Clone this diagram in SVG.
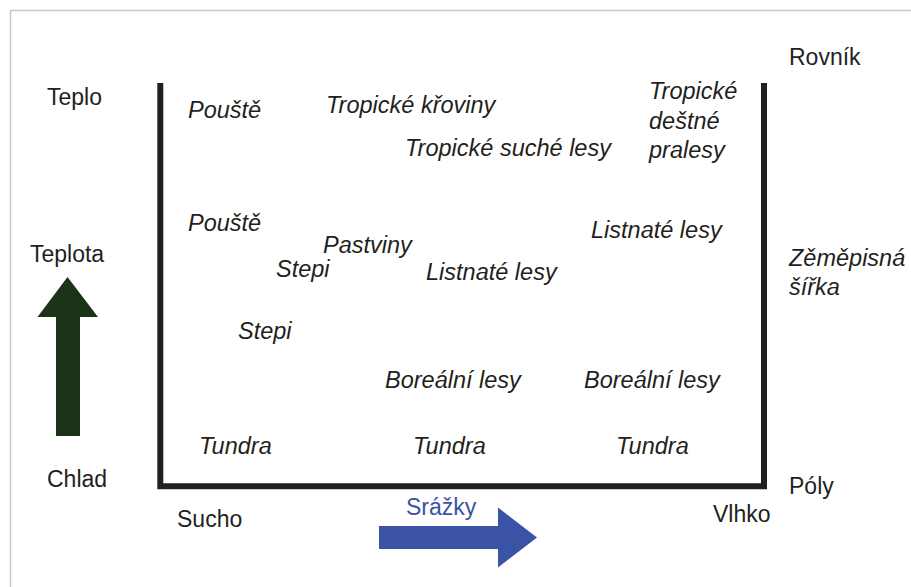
<svg xmlns="http://www.w3.org/2000/svg" width="911" height="587" viewBox="0 0 911 587">
<style>
text{font-family:"Liberation Sans",Arial,Helvetica,sans-serif;font-size:23px;fill:#231f20}
.i{font-style:italic;font-size:23.5px}
.b{fill:#3a53a4}
</style>
<rect width="911" height="587" fill="#fff"/>
<path d="M10.5,587 V10.5 H911" fill="none" stroke="#c8c8c8" stroke-width="1.5"/>
<g id="frame">
<path d="M160.3,83 V486.3 H764 V83" fill="none" stroke="#231f20" stroke-width="6"/>
</g>
<g id="axis-temperature">
<polygon points="67.5,277 98,317 80,317 80,436 56,436 56,317 37.5,317" fill="#1c3319"/>
<text x="47" y="105">Teplo</text>
<text x="30" y="262">Teplota</text>
<text x="47" y="487">Chlad</text>
</g>
<g id="axis-precip">
<polygon points="379,526 498,526 498,507.5 537,537.5 498,567.5 498,549 379,549" fill="#3a53a4"/>
<text class="b" x="406" y="515">Srážky</text>
<text x="177" y="527">Sucho</text>
<text x="713" y="522">Vlhko</text>
</g>
<g id="axis-latitude">
<text x="789" y="65">Rovník</text>
<text class="i" x="789" y="266">Zěměpisná</text>
<text class="i" x="789" y="295">šířka</text>
<text x="789" y="494">Póly</text>
</g>
<g id="biomes">
<text class="i" x="188" y="118">Pouště</text>
<text class="i" x="326" y="113">Tropické křoviny</text>
<text class="i" x="649" y="99">Tropické</text>
<text class="i" x="649" y="129">deštné</text>
<text class="i" x="649" y="158">pralesy</text>
<text class="i" x="405" y="156">Tropické suché lesy</text>
<text class="i" x="188" y="231">Pouště</text>
<text class="i" x="323" y="253">Pastviny</text>
<text class="i" x="276" y="277">Stepi</text>
<text class="i" x="426" y="280">Listnaté lesy</text>
<text class="i" x="591" y="238">Listnaté lesy</text>
<text class="i" x="238" y="339">Stepi</text>
<text class="i" x="385" y="388">Boreální lesy</text>
<text class="i" x="584" y="388">Boreální lesy</text>
<text class="i" x="199" y="454">Tundra</text>
<text class="i" x="413" y="454">Tundra</text>
<text class="i" x="616" y="454">Tundra</text>
</g>
</svg>
